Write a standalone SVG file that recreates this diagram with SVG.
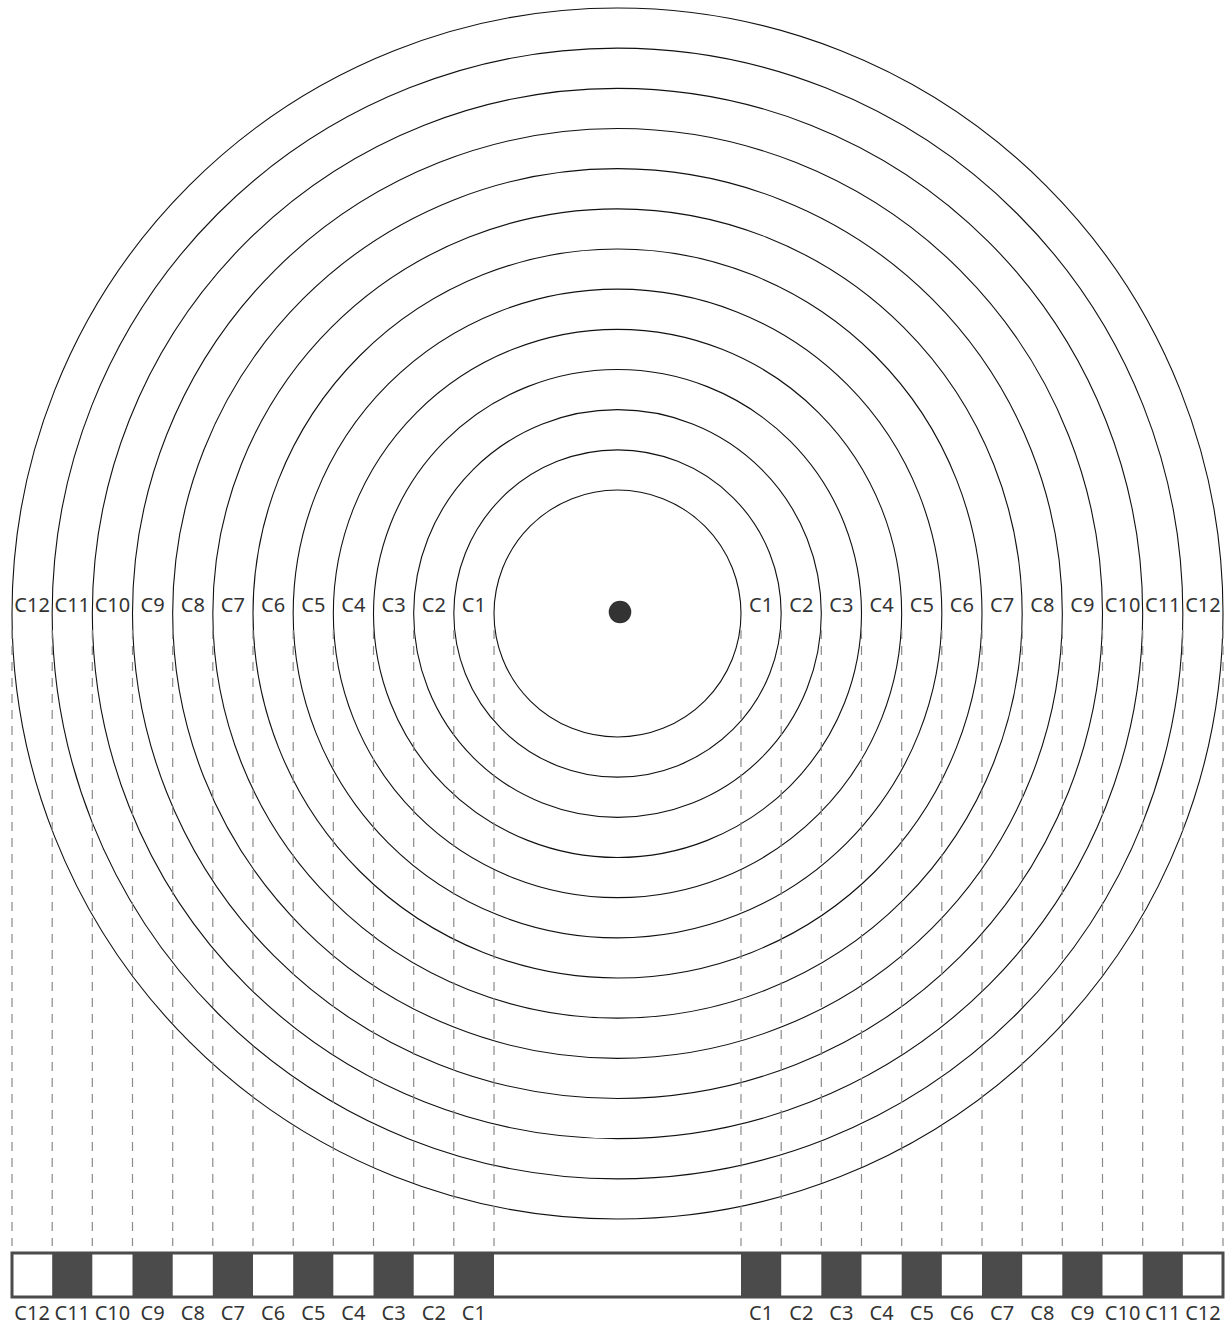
<svg xmlns="http://www.w3.org/2000/svg" width="1225" height="1327" viewBox="0 0 1225 1327">
<style>
.ring{fill:none;stroke:#111;stroke-width:1.1}
.dash{stroke:#8a8a8a;stroke-width:1.2;stroke-dasharray:9 7}
.lbl{font-family:"Noto Sans","DejaVu Sans",sans-serif;font-size:20px;fill:#333;text-anchor:middle}
.dark{fill:#4a4b4a}
</style>
<rect width="1225" height="1327" fill="#fff"/>
<g id="rings">
<circle class="ring" cx="617.5" cy="613.5" r="123.5"/>
<circle class="ring" cx="617.5" cy="613.5" r="163.67"/>
<circle class="ring" cx="617.5" cy="613.5" r="203.83"/>
<circle class="ring" cx="617.5" cy="613.5" r="244"/>
<circle class="ring" cx="617.5" cy="613.5" r="284.17"/>
<circle class="ring" cx="617.5" cy="613.5" r="324.33"/>
<circle class="ring" cx="617.5" cy="613.5" r="364.5"/>
<circle class="ring" cx="617.5" cy="613.5" r="404.67"/>
<circle class="ring" cx="617.5" cy="613.5" r="444.83"/>
<circle class="ring" cx="617.5" cy="613.5" r="485"/>
<circle class="ring" cx="617.5" cy="613.5" r="525.17"/>
<circle class="ring" cx="617.5" cy="613.5" r="565.33"/>
<circle class="ring" cx="617.5" cy="613.5" r="605.5"/>
</g>
<g id="center-dot"><circle cx="620" cy="612" r="11.3" fill="#333"/></g>
<g id="connectors">
<line class="dash" x1="12" y1="630" x2="12" y2="1246"/>
<line class="dash" x1="52.2" y1="630" x2="52.2" y2="1246"/>
<line class="dash" x1="92.3" y1="630" x2="92.3" y2="1246"/>
<line class="dash" x1="132.5" y1="630" x2="132.5" y2="1246"/>
<line class="dash" x1="172.7" y1="630" x2="172.7" y2="1246"/>
<line class="dash" x1="212.8" y1="630" x2="212.8" y2="1246"/>
<line class="dash" x1="253" y1="630" x2="253" y2="1246"/>
<line class="dash" x1="293.2" y1="630" x2="293.2" y2="1246"/>
<line class="dash" x1="333.3" y1="630" x2="333.3" y2="1246"/>
<line class="dash" x1="373.5" y1="630" x2="373.5" y2="1246"/>
<line class="dash" x1="413.7" y1="630" x2="413.7" y2="1246"/>
<line class="dash" x1="453.8" y1="630" x2="453.8" y2="1246"/>
<line class="dash" x1="494" y1="630" x2="494" y2="1246"/>
<line class="dash" x1="741" y1="630" x2="741" y2="1246"/>
<line class="dash" x1="781.2" y1="630" x2="781.2" y2="1246"/>
<line class="dash" x1="821.3" y1="630" x2="821.3" y2="1246"/>
<line class="dash" x1="861.5" y1="630" x2="861.5" y2="1246"/>
<line class="dash" x1="901.7" y1="630" x2="901.7" y2="1246"/>
<line class="dash" x1="941.8" y1="630" x2="941.8" y2="1246"/>
<line class="dash" x1="982" y1="630" x2="982" y2="1246"/>
<line class="dash" x1="1022.2" y1="630" x2="1022.2" y2="1246"/>
<line class="dash" x1="1062.3" y1="630" x2="1062.3" y2="1246"/>
<line class="dash" x1="1102.5" y1="630" x2="1102.5" y2="1246"/>
<line class="dash" x1="1142.7" y1="630" x2="1142.7" y2="1246"/>
<line class="dash" x1="1182.8" y1="630" x2="1182.8" y2="1246"/>
<line class="dash" x1="1223" y1="630" x2="1223" y2="1246"/>
</g>
<g id="bar">
<rect x="12" y="1253" width="1211" height="44" fill="#fff"/>
<rect class="dark" x="52.2" y="1253" width="40.1" height="44"/>
<rect class="dark" x="132.5" y="1253" width="40.2" height="44"/>
<rect class="dark" x="212.8" y="1253" width="40.2" height="44"/>
<rect class="dark" x="293.2" y="1253" width="40.1" height="44"/>
<rect class="dark" x="373.5" y="1253" width="40.2" height="44"/>
<rect class="dark" x="453.8" y="1253" width="40.2" height="44"/>
<rect class="dark" x="741" y="1253" width="40.2" height="44"/>
<rect class="dark" x="821.3" y="1253" width="40.2" height="44"/>
<rect class="dark" x="901.7" y="1253" width="40.1" height="44"/>
<rect class="dark" x="982" y="1253" width="40.2" height="44"/>
<rect class="dark" x="1062.3" y="1253" width="40.2" height="44"/>
<rect class="dark" x="1142.7" y="1253" width="40.1" height="44"/>
<rect x="12" y="1253" width="1211" height="44" fill="none" stroke="#4a4b4a" stroke-width="3"/>
</g>
<g id="labels-top">
<text class="lbl" x="32.1" y="612">C12</text>
<text class="lbl" x="72.3" y="612">C11</text>
<text class="lbl" x="112.4" y="612">C10</text>
<text class="lbl" x="152.6" y="612">C9</text>
<text class="lbl" x="192.8" y="612">C8</text>
<text class="lbl" x="232.9" y="612">C7</text>
<text class="lbl" x="273.1" y="612">C6</text>
<text class="lbl" x="313.3" y="612">C5</text>
<text class="lbl" x="353.4" y="612">C4</text>
<text class="lbl" x="393.6" y="612">C3</text>
<text class="lbl" x="433.8" y="612">C2</text>
<text class="lbl" x="473.9" y="612">C1</text>
<text class="lbl" x="761.1" y="612">C1</text>
<text class="lbl" x="801.3" y="612">C2</text>
<text class="lbl" x="841.4" y="612">C3</text>
<text class="lbl" x="881.6" y="612">C4</text>
<text class="lbl" x="921.8" y="612">C5</text>
<text class="lbl" x="961.9" y="612">C6</text>
<text class="lbl" x="1002.1" y="612">C7</text>
<text class="lbl" x="1042.3" y="612">C8</text>
<text class="lbl" x="1082.4" y="612">C9</text>
<text class="lbl" x="1122.6" y="612">C10</text>
<text class="lbl" x="1162.8" y="612">C11</text>
<text class="lbl" x="1202.9" y="612">C12</text>
</g>
<g id="labels-bottom">
<text class="lbl" x="32.1" y="1320">C12</text>
<text class="lbl" x="72.3" y="1320">C11</text>
<text class="lbl" x="112.4" y="1320">C10</text>
<text class="lbl" x="152.6" y="1320">C9</text>
<text class="lbl" x="192.8" y="1320">C8</text>
<text class="lbl" x="232.9" y="1320">C7</text>
<text class="lbl" x="273.1" y="1320">C6</text>
<text class="lbl" x="313.3" y="1320">C5</text>
<text class="lbl" x="353.4" y="1320">C4</text>
<text class="lbl" x="393.6" y="1320">C3</text>
<text class="lbl" x="433.8" y="1320">C2</text>
<text class="lbl" x="473.9" y="1320">C1</text>
<text class="lbl" x="761.1" y="1320">C1</text>
<text class="lbl" x="801.3" y="1320">C2</text>
<text class="lbl" x="841.4" y="1320">C3</text>
<text class="lbl" x="881.6" y="1320">C4</text>
<text class="lbl" x="921.8" y="1320">C5</text>
<text class="lbl" x="961.9" y="1320">C6</text>
<text class="lbl" x="1002.1" y="1320">C7</text>
<text class="lbl" x="1042.3" y="1320">C8</text>
<text class="lbl" x="1082.4" y="1320">C9</text>
<text class="lbl" x="1122.6" y="1320">C10</text>
<text class="lbl" x="1162.8" y="1320">C11</text>
<text class="lbl" x="1202.9" y="1320">C12</text>
</g>
</svg>
